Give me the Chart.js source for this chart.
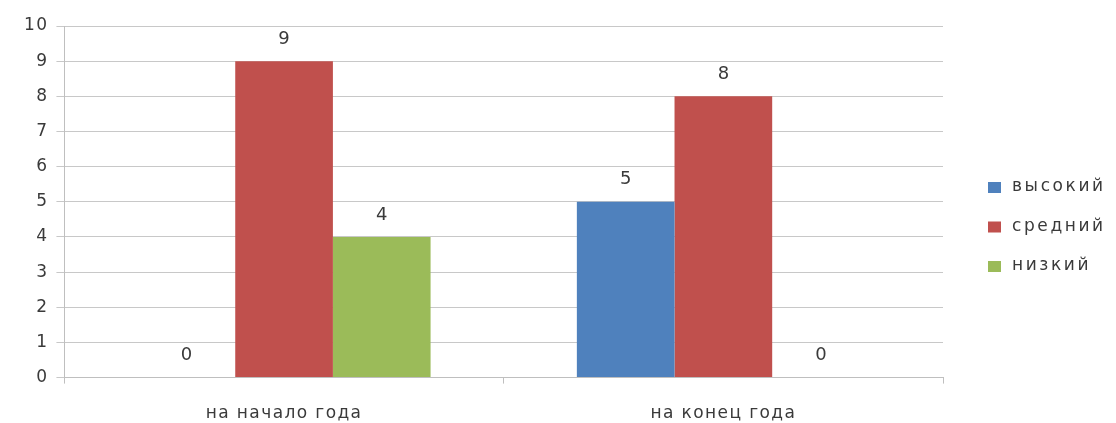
<!DOCTYPE html>
<html>
<head>
<meta charset="utf-8">
<script src="https://cdn.jsdelivr.net/npm/chart.js@4"></script>
<style>
  body { margin: 0; background: #fff; overflow: hidden; }
  #wrap { width: 1116px; height: 427px; }
</style>
</head>
<body>
<div id="wrap"><canvas id="myChart"></canvas></div>
<script>
const categories = ['на начало года', 'на конец года'];
const seriesNames = ['высокий', 'средний', 'низкий'];
const highValues = [0, 5];
const midValues = [9, 8];
const lowValues = [4, 0];
const yTicks = [0, 1, 2, 3, 4, 5, 6, 7, 8, 9, 10];

const colors = ['#4f81bd', '#c0504d', '#9bbb59'];
const font = '"DejaVu Sans", sans-serif';
const textColor = '#3a3a3a';

// the source text is wide, so space letters a bit (canvas resets on resize)
const spacing = {
  id: 'spacing',
  beforeUpdate(chart) { chart.ctx.letterSpacing = '1.4px'; },
  beforeDraw(chart) { chart.ctx.letterSpacing = '1.4px'; }
};

// value labels above bars
const valueLabels = {
  id: 'valueLabels',
  afterDatasetsDraw(chart) {
    const c = chart.ctx;
    c.save();
    c.letterSpacing = '0px';
    c.font = '18px ' + font;
    c.fillStyle = textColor;
    c.textAlign = 'center';
    c.textBaseline = 'middle';
    chart.data.datasets.forEach((ds, i) => {
      chart.getDatasetMeta(i).data.forEach((bar, j) => {
        c.fillText(ds.data[j], bar.x, bar.y - 22);
      });
    });
    c.restore();
  }
};

// legend on the right, drawn by hand
const sideLegend = {
  id: 'sideLegend',
  afterDraw(chart) {
    const c = chart.ctx;
    c.save();
    c.font = '17px ' + font;
    c.letterSpacing = '2.6px';
    c.textBaseline = 'middle';
    chart.data.datasets.forEach((ds, i) => {
      const y = 187 + i * 39.5;
      c.fillStyle = ds.backgroundColor;
      c.fillRect(988, y - 5, 13, 11);
      c.fillStyle = textColor;
      c.fillText(ds.label, 1012, y);
    });
    c.restore();
  }
};

const ctx = document.getElementById('myChart');
new Chart(ctx, {
  type: 'bar',
  data: {
    labels: categories,
    datasets: [
      { label: seriesNames[0], data: highValues, backgroundColor: colors[0] },
      { label: seriesNames[1], data: midValues, backgroundColor: colors[1] },
      { label: seriesNames[2], data: lowValues, backgroundColor: colors[2] }
    ]
  },
  options: {
    responsive: true,
    maintainAspectRatio: false,
    animation: false,
    layout: { padding: { top: 26, right: 173, left: 16, bottom: -17 } },
    datasets: {
      bar: { categoryPercentage: 0.667, barPercentage: 1.0 }
    },
    plugins: {
      legend: { display: false },
      tooltip: { enabled: false }
    },
    scales: {
      x: {
        grid: { drawOnChartArea: false, color: '#bfbfbf', tickLength: 6 },
        border: { color: '#bfbfbf' },
        ticks: { color: textColor, font: { family: font, size: 17 }, padding: 20 }
      },
      y: {
        min: 0,
        max: 10,
        afterBuildTicks(axis) { axis.ticks = yTicks.map(v => ({ value: v })); },
        grid: { color: '#c8c8c8', tickLength: 8 },
        border: { color: '#bfbfbf' },
        ticks: { color: textColor, font: { family: font, size: 17 }, padding: 8 }
      }
    }
  },
  plugins: [spacing, valueLabels, sideLegend]
});
</script>
</body>
</html>
